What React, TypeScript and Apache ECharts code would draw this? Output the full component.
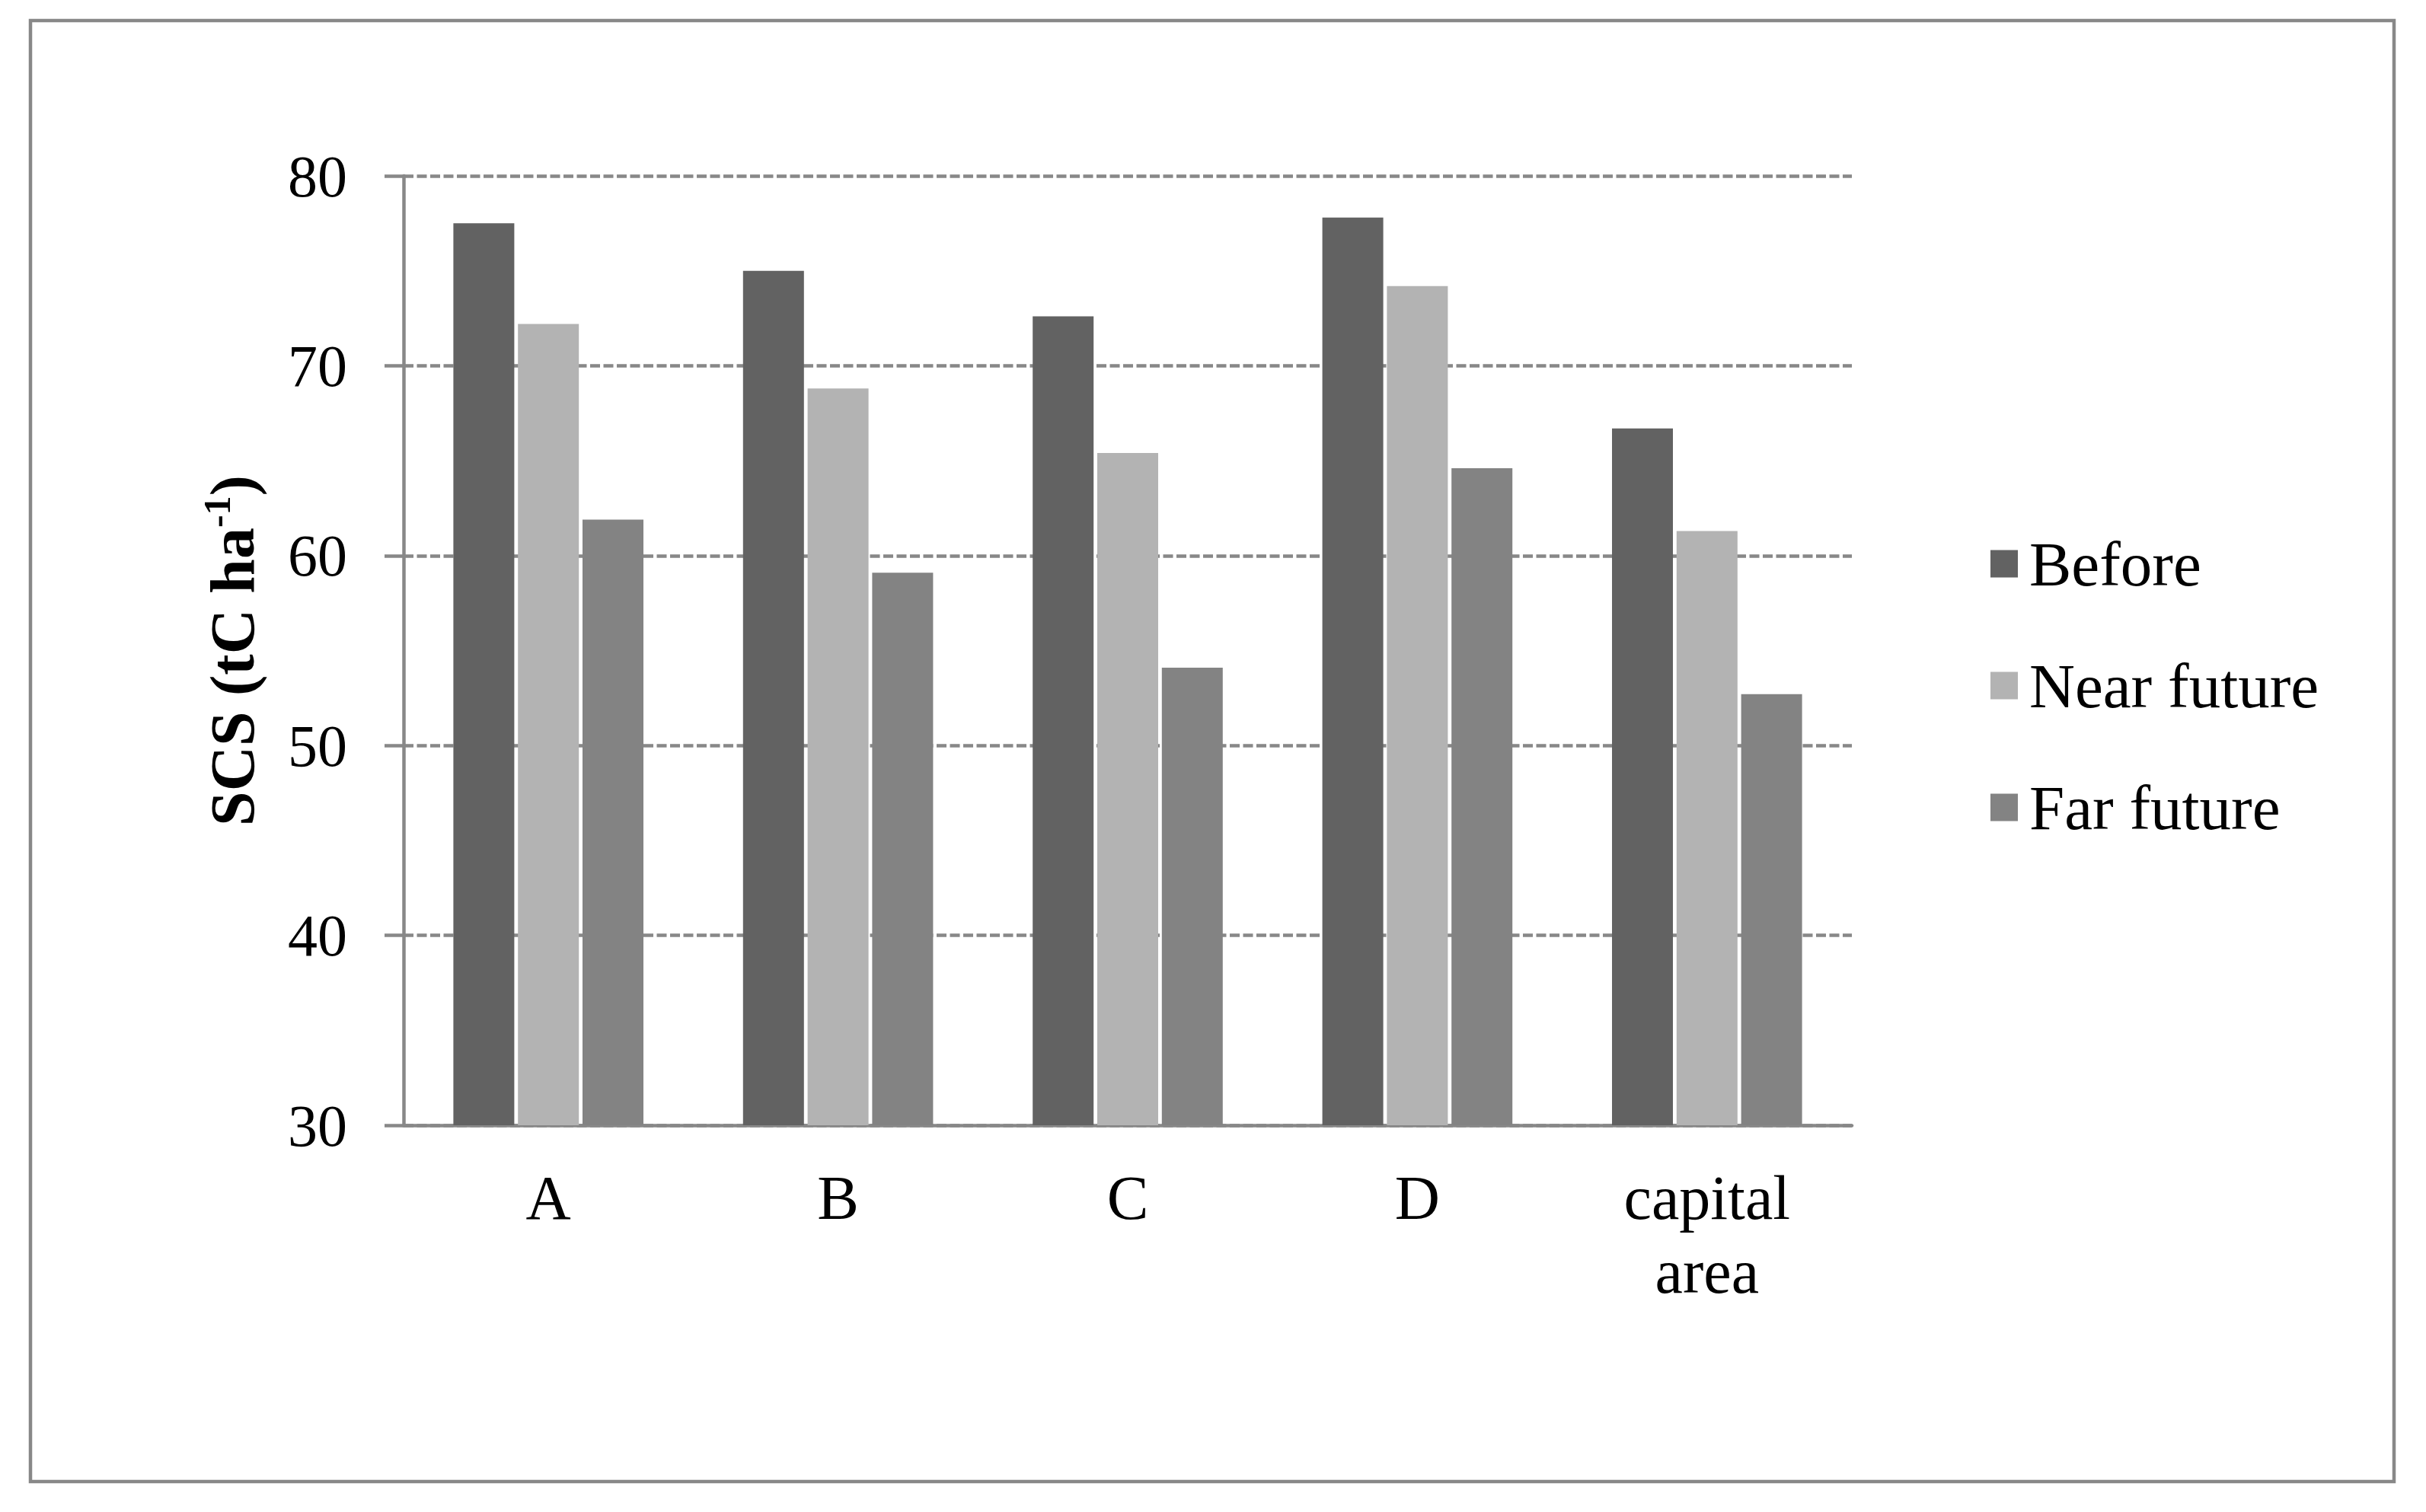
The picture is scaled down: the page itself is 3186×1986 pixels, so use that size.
import React, { useEffect, useRef } from "react";
import * as echarts from "echarts";

const categories = ["A", "B", "C", "D", "capital\narea"];
const seriesNames = ["Before", "Near future", "Far future"];
const before = [77.5, 75.0, 72.6, 77.8, 66.7];
const nearFuture = [72.2, 68.8, 65.4, 74.2, 61.3];
const farFuture = [61.9, 59.1, 54.1, 64.6, 52.7];
const yMin = 30;
const yMax = 80;
const yInterval = 10;

const colors = ["#626262", "#b3b3b3", "#838383"];
const axisColor = "#888888";
const FONT = "'Liberation Serif', 'Times New Roman', serif";

export default function App() {
  const ref = useRef<HTMLDivElement>(null);
  useEffect(() => {
    if (!ref.current) return;
    const chart = echarts.init(ref.current, null, { renderer: "svg" });
    const values = [before, nearFuture, farFuture];
    chart.setOption({
      animation: false,
      backgroundColor: "#ffffff",
      textStyle: { fontFamily: FONT },
      graphic: [
        {
          type: "rect",
          shape: { x: 40, y: 27, width: 3104, height: 1919 },
          style: { fill: "none", stroke: axisColor, lineWidth: 4.5 },
          z: -1,
        },
      ],
      grid: { left: 530, top: 231, width: 1902, height: 1247, containLabel: false },
      legend: {
        orient: "vertical",
        left: 2609,
        top: 694,
        icon: "rect",
        itemWidth: 36,
        itemHeight: 36,
        itemGap: 77,
        data: seriesNames,
        textStyle: {
          fontFamily: FONT,
          fontSize: 83,
          lineHeight: 83,
          color: "#000",
          padding: [0, 0, 0, 10],
        },
      },
      xAxis: {
        type: "category",
        data: categories,
        axisLine: { show: true, lineStyle: { color: axisColor, width: 4.5 } },
        axisTick: { show: false },
        axisLabel: {
          interval: 0,
          fontFamily: FONT,
          fontSize: 82,
          lineHeight: 97,
          color: "#000",
          margin: 47,
        },
        splitLine: { show: false },
      },
      yAxis: {
        type: "value",
        min: yMin,
        max: yMax,
        interval: yInterval,
        name: "{b|SCS (tC ha}{s|-1}{b|)}",
        nameLocation: "middle",
        nameRotate: 90,
        nameGap: 180,
        nameTextStyle: {
          fontFamily: FONT,
          fontWeight: "bold",
          fontSize: 82,
          color: "#000",
          rich: {
            b: { fontFamily: FONT, fontWeight: "bold", fontSize: 82, lineHeight: 90, color: "#000" },
            s: { fontFamily: FONT, fontWeight: "bold", fontSize: 50, lineHeight: 50, verticalAlign: "top", color: "#000" },
          },
        },
        axisLine: { show: true, lineStyle: { color: axisColor, width: 4.5 } },
        axisTick: { show: true, length: 25, inside: false, lineStyle: { color: axisColor, width: 4.5 } },
        axisLabel: { fontFamily: FONT, fontSize: 78, color: "#000", margin: 74 },
        splitLine: { show: true, lineStyle: { color: axisColor, width: 4.5, type: [13, 4.5] } },
      },
      series: seriesNames.map((name, i) => ({
        name,
        type: "bar",
        data: values[i],
        barWidth: 80,
        barGap: "6%",
        itemStyle: { color: colors[i] },
      })),
    });
    return () => chart.dispose();
  }, []);
  return (
    <div
      ref={ref}
      style={{ position: "absolute", left: 0, top: 0, width: 3186, height: 1986, background: "#fff" }}
    />
  );
}
